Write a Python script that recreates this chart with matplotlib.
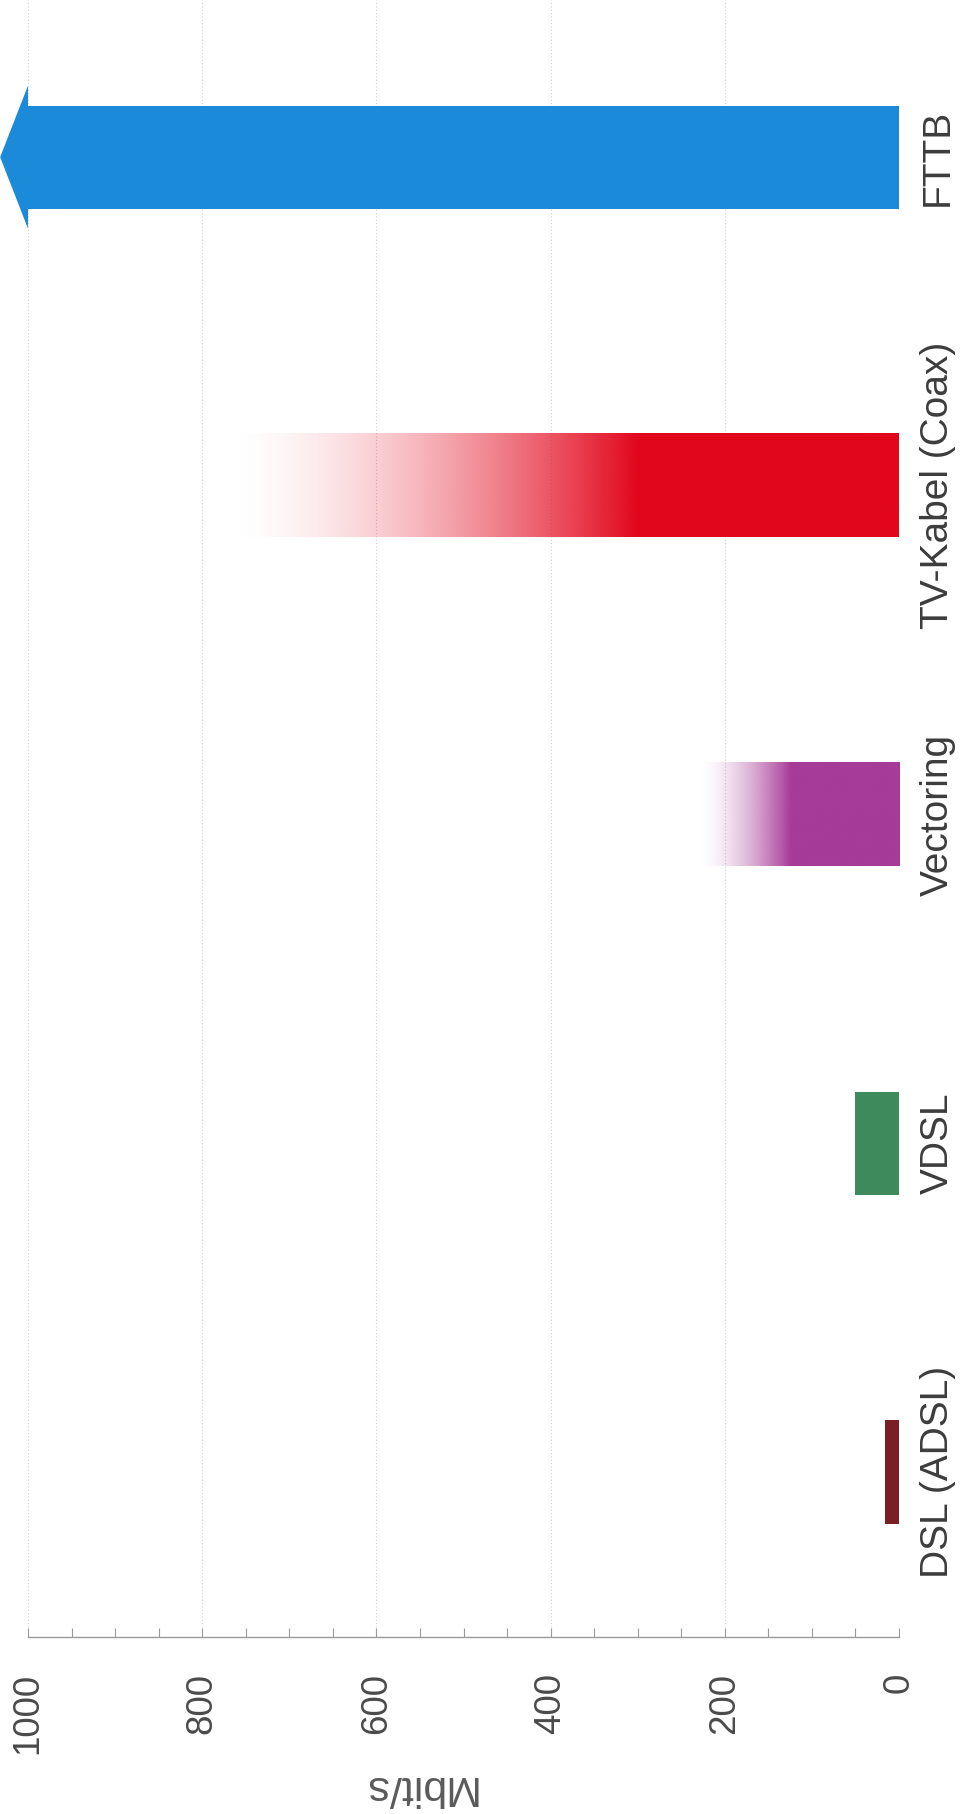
import matplotlib.pyplot as plt
import numpy as np
from matplotlib.colors import to_rgb

plt.rcParams['font.family'] = ['Liberation Sans', 'DejaVu Sans']

# data (Mbit/s), chart is drawn turned by 90 degrees like the scan
categories = ['DSL (ADSL)', 'VDSL', 'Vectoring', 'TV-Kabel (Coax)', 'FTTB']
speed_solid = [16, 50, 125, 300, 1000]   # full colour up to here
speed_fade = [16, 50, 230, 770, 1000]    # colour fades out up to here
colors = ['#7a1f23', '#3e8a5d', '#a63b98', '#e2061c', '#1b8ad9']
value_ticks = [0, 200, 400, 600, 800, 1000]

fig = plt.figure(figsize=(9.69, 18.14), dpi=100)
ax = fig.add_axes([28 / 969, (1814 - 1637) / 1814, 871 / 969, 1637 / 1814])

pos = np.arange(len(categories))
bar_h = 0.314

for i, (solid, fade, col) in enumerate(zip(speed_solid, speed_fade, colors)):
    if fade > solid:
        v = np.linspace(0, fade, 800)
        a = np.clip((fade - v) / (fade - solid), 0, 1) ** 1.6
        rgba = np.zeros((1, len(v), 4))
        rgba[..., :3] = to_rgb(col)
        rgba[..., 3] = a
        ax.imshow(rgba, extent=[0, fade, i - bar_h / 2, i + bar_h / 2],
                  aspect='auto', interpolation='bilinear', zorder=2)
    else:
        ax.barh(i, solid, height=bar_h, color=col, zorder=2)

# arrow head on the FTTB bar (open ended)
i_top = len(categories) - 1
head_w = 0.435
head_len = 32
ax.fill([speed_solid[i_top], speed_solid[i_top], speed_solid[i_top] + head_len],
        [i_top - head_w / 2, i_top + head_w / 2, i_top],
        color=colors[i_top], clip_on=False, zorder=2, lw=0)

ax.set_xlim(1000, 0)
ax.set_ylim(-0.502, 4.478)

ax.set_xticks(value_ticks)
ax.set_xticks(np.arange(0, 1001, 50), minor=True)
ax.tick_params(axis='x', which='both', direction='in', length=6.5,
               color='#9a9a9a', width=0.8)
ax.tick_params(axis='x', which='major', labelsize=26.5, labelcolor='#4a4a4a',
               pad=26, labelrotation=90)
ax.grid(axis='x', which='major', color='#d0d0d0', linestyle=(0, (1, 2)),
        linewidth=0.8)
ax.set_axisbelow(True)

ax.yaxis.tick_right()
ax.set_yticks(pos, categories)
ax.tick_params(axis='y', length=0, pad=15, labelsize=28,
               labelcolor='#3c3c3c', labelrotation=90)
for lbl in ax.get_yticklabels():
    lbl.set_va('center')

for s in ['top', 'left', 'right']:
    ax.spines[s].set_visible(False)
ax.spines['bottom'].set_color('#9a9a9a')
ax.spines['bottom'].set_linewidth(1.0)

fig.text(418 / 969, 1 - 1787 / 1814, 'Mbit/s', rotation=180, ha='center',
         va='center', fontsize=31, color='#5a5a5a')

plt.savefig('out.png', dpi=100)
